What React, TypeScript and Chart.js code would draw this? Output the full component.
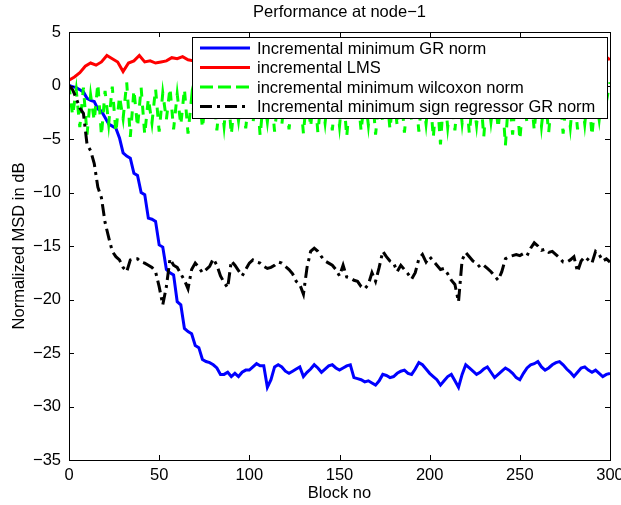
import React, { useEffect, useRef } from "react";
import { Chart, registerables } from "chart.js";

Chart.register(...registerables);

const FONT = '"Liberation Sans", Arial, Helvetica, sans-serif';
const FONT_SIZE = 16.5;

const TITLE = "Performance at node\u22121";
const X_LABEL = "Block no";
const Y_LABEL = "Normalized MSD in dB";

const SERIES_LABELS = [
  "Incremental minimum GR norm",
  "incremental LMS",
  "incremental minimum wilcoxon norm",
  "Incremental minimum sign regressor GR norm",
];

const X_TICKS = [0, 50, 100, 150, 200, 250, 300];
const Y_TICKS = [5, 0, -5, -10, -15, -20, -25, -30, -35];

// Block spacing of the samples in each series
const BLUE_STEP = 2;
const RED_STEP = 3;
const GREEN_STEP = 2;
const BLACK_STEP = 2;

// Incremental minimum GR norm (blocks 0,2,4,...,300)
const GR_NORM_DB = [
  0, -0.1, -0.2, -0.4, -0.6, -1.2, -1.4, -1.5, -2.2, -2.4,
  -3.0, -3.6, -3.8, -4.0, -4.9, -6.3, -6.6, -6.8, -8.2, -8.4,
  -10.0, -10.2, -12.4, -12.5, -12.7, -14.9, -15.1, -17.2, -17.5, -17.7,
  -20.2, -20.5, -22.7, -23.0, -23.2, -24.3, -24.5, -25.6, -25.8, -25.9,
  -26.1, -26.4, -27.0, -27.0, -26.8, -27.2, -26.9, -27.2, -26.8, -26.6,
  -26.6, -26.3, -26.0, -26.2, -26.2, -28.2, -27.5, -26.3, -26.1, -26.3,
  -26.7, -26.9, -26.7, -26.5, -26.3, -27.2, -26.8, -26.5, -26.1, -26.4,
  -26.8, -26.5, -26.2, -26.1, -26.4, -26.6, -26.4, -26.2, -26.1, -27.3,
  -27.4, -27.5, -27.7, -27.6, -27.8, -28.0, -27.6, -27.0, -27.1, -27.3,
  -27.2, -26.9, -26.7, -26.6, -26.9, -27.0, -26.5, -25.9, -26.1, -26.5,
  -26.9, -27.2, -27.5, -28.0, -27.6, -27.2, -27.0, -27.6, -28.2, -27.0,
  -26.1, -26.4, -26.7, -27.0, -26.8, -26.5, -26.3, -26.8, -27.3, -27.0,
  -26.7, -26.4, -26.6, -26.9, -27.3, -27.5, -26.9, -26.4, -26.1, -26.0,
  -25.8, -26.3, -26.6, -26.4, -26.1, -25.9, -25.8, -26.1, -26.5, -26.8,
  -27.2, -26.8, -26.4, -26.3, -26.6, -26.8, -26.6, -26.9, -27.2, -27.0,
  -26.9,
];

// incremental LMS (blocks 0,3,6,...,300)
const LMS_DB = [
  0.5, 0.8, 1.2, 1.8, 2.1, 1.9, 2.2, 2.8, 2.5, 2.2,
  1.3, 2.1, 2.3, 2.8, 2.2, 2.3, 2.1, 2.2, 2.3, 2.6,
  2.5, 2.7, 2.4,
  2.3, 2.0, 2.4, 2.1, 1.9, 2.3, 2.5, 2.2, 2.0, 2.4,
  2.1, 2.3, 2.6, 2.2, 1.9, 2.2, 2.4, 2.1, 2.3, 2.5,
  2.2, 2.0, 2.3, 2.4, 2.1, 2.2, 2.5, 2.3, 2.0, 2.2,
  2.4, 2.1, 2.3, 2.6, 2.2, 2.0, 2.3, 2.4, 2.2, 2.1,
  2.4, 2.5, 2.2, 2.0, 2.3, 2.4, 2.1, 2.2, 2.5, 2.3,
  2.1, 2.2, 2.4, 2.6, 2.3, 2.0, 2.2, 2.4, 2.1, 2.3,
  2.5, 2.2, 2.0, 2.3, 2.4, 2.2, 2.1, 2.4, 2.5, 2.2,
  2.3, 2.1, 2.4, 2.2, 2.3,
  2.4, 2.8, 2.4,
];

// incremental minimum wilcoxon norm (blocks 0,2,4,...,300)
const WILCOXON_DB = [
  0.0, -2.8, -0.4, -3.9, -0.2, -4.6, -0.9, -3.3, 0.2, -4.7,
  -0.5, -3.6, -0.1, -4.4, -1.0, -3.1, 0.3, -4.8, -0.4, -3.9,
  -0.2, -4.6, -1.2, -3.5, -0.3, -4.3, -0.7, -3.2, -0.2, -4.1,
  -0.8, -3.7, -0.3, -4.5, -1.1, -3.4, -0.4, -4.0, -0.8, -3.1,
  -0.2, -4.2, -0.6, -3.8, -0.3, -4.6, -1.0, -3.3, -0.5, -4.0,
  -0.7, -3.6, -0.2, -4.7, -0.9, -3.4, -0.4, -4.3, -1.1, -3.7,
  -0.3, -4.1, -0.8, -3.1, -0.5, -4.5, -0.6, -3.9, -0.2, -4.4,
  -1.0, -3.5, -0.4, -4.2, -0.7, -3.8, -0.3, -4.8, -0.9, -3.3,
  -0.5, -4.3, -0.8, -3.7, -0.2, -4.6, -1.1, -3.4, -0.4, -4.1,
  -0.6, -3.8, -0.3, -4.4, -1.0, -3.2, -0.5, -4.3, -0.8, -3.6,
  -0.3, -4.9, -0.7, -5.5, -0.4, -3.9, -0.9, -4.2, -0.2, -3.5,
  -0.6, -4.5, -1.0, -3.7, -0.3, -4.8, -0.5, -3.4, -0.8, -4.0,
  -0.4, -5.6, -0.7, -4.6, -0.2, -5.1, -1.1, -3.5, -0.5, -4.2,
  -0.3, -3.8, -0.8, -4.4, -0.6, -3.3, -0.2, -4.5, -1.0, -3.9,
  -0.4, -4.1, -0.7, -3.6, -0.3, -4.7, -0.9, -3.2, -0.2, -1.5,
  0.3,
];

// Incremental minimum sign regressor GR norm (blocks 0,2,4,...,300)
const SIGN_GR_DB = [
  0, -0.4, -1.2, -2.1, -2.6, -5.5, -6.1, -7.3, -9.5, -10.5,
  -12.8, -14.2, -15.5, -16.0, -16.3, -17.0, -17.4, -16.3, -16.2, -16.2,
  -16.5, -16.6, -16.8, -17.0, -17.4, -18.8, -20.5, -18.8, -16.2, -16.8,
  -17.0, -17.6, -18.2, -19.0, -17.2, -16.6, -17.0, -17.5, -17.2, -16.9,
  -16.2, -16.8, -17.8, -18.4, -18.9, -16.4, -16.8, -17.3, -17.8, -17.2,
  -16.6, -16.3, -16.5, -16.6, -16.9, -17.1, -17.0, -16.8, -16.5, -16.6,
  -16.9, -17.2, -17.6, -18.3, -18.6, -19.5, -17.0, -15.5, -15.2, -15.5,
  -16.0, -16.4, -16.6, -16.8, -17.2, -17.8, -16.8, -17.9, -18.0, -18.2,
  -18.3, -18.8, -19.0, -18.6, -17.5, -18.3, -17.0, -15.5, -16.0, -16.4,
  -16.6, -17.4, -16.8, -17.2, -17.6, -18.1, -17.5, -16.2, -15.8, -16.5,
  -16.0, -16.4, -16.8, -17.2, -17.1, -17.6, -18.2, -18.6, -20.2, -16.3,
  -15.6, -16.0, -16.4, -16.6, -17.0, -16.8, -17.1, -17.4, -17.8, -18.2,
  -17.4, -16.2, -16.0, -15.9, -15.8, -15.9, -15.7, -15.9, -15.2, -14.7,
  -15.0, -15.4, -15.3, -15.6, -15.5, -15.8, -16.1, -16.5, -16.5, -16.3,
  -16.0, -17.4, -16.4, -16.0, -16.3, -16.6, -15.5, -15.8, -16.4, -16.2,
  -16.5,
];

function toPoints(values: number[], step: number) {
  return values.map((y, i) => ({ x: i * step, y }));
}

function fmtTick(v: number | string) {
  const n = Number(v);
  return n < 0 ? "\u2212" + Math.abs(n) : String(n);
}

const framePlugin = {
  id: "matlabFrame",
  afterDatasetsDraw(chart: any) {
    const { ctx, chartArea, scales } = chart;
    const { left, right, top, bottom } = chartArea;
    const tl = 5;
    ctx.save();
    ctx.setLineDash([]);
    ctx.strokeStyle = "#000";
    ctx.lineWidth = 1;
    ctx.beginPath();
    X_TICKS.forEach((v) => {
      const px = Math.round(scales.x.getPixelForValue(v)) + 0.5;
      ctx.moveTo(px, bottom);
      ctx.lineTo(px, bottom - tl);
      ctx.moveTo(px, top);
      ctx.lineTo(px, top + tl);
    });
    Y_TICKS.forEach((v) => {
      const py = Math.round(scales.y.getPixelForValue(v)) + 0.5;
      ctx.moveTo(left, py);
      ctx.lineTo(left + tl, py);
      ctx.moveTo(right, py);
      ctx.lineTo(right - tl, py);
    });
    ctx.stroke();
    ctx.strokeRect(Math.round(left) + 0.5, Math.round(top) + 0.5, Math.round(right - left), Math.round(bottom - top));
    ctx.restore();
  },
};

const titleLegendPlugin = {
  id: "titleLegend",
  afterDraw(chart: any) {
    const { ctx, chartArea } = chart;
    ctx.save();
    // title
    ctx.fillStyle = "#000";
    ctx.font = `${FONT_SIZE}px ${FONT}`;
    ctx.textAlign = "center";
    ctx.textBaseline = "middle";
    ctx.fillText(TITLE, (chartArea.left + chartArea.right) / 2, 12);

    // legend box
    const boxW = 415;
    const boxH = 81;
    const boxRight = chartArea.right - 3;
    const boxTop = chartArea.top + 5;
    const boxLeft = boxRight - boxW;
    ctx.fillStyle = "#fff";
    ctx.fillRect(boxLeft, boxTop, boxW, boxH);
    ctx.strokeStyle = "#000";
    ctx.lineWidth = 1;
    ctx.setLineDash([]);
    ctx.strokeRect(Math.round(boxLeft) + 0.5, Math.round(boxTop) + 0.5, boxW, boxH);
    chart.data.datasets.forEach((ds: any, i: number) => {
      const yy = boxTop + 11 + i * 19.5;
      ctx.beginPath();
      ctx.strokeStyle = ds.borderColor;
      ctx.lineWidth = ds.borderWidth;
      ctx.lineCap = "butt";
      ctx.setLineDash(ds.legendDash || ds.borderDash || []);
      ctx.moveTo(boxLeft + 8, yy);
      ctx.lineTo(boxLeft + 58, yy);
      ctx.stroke();
      ctx.setLineDash([]);
      ctx.fillStyle = "#000";
      ctx.font = `${FONT_SIZE}px ${FONT}`;
      ctx.textAlign = "left";
      ctx.textBaseline = "middle";
      ctx.fillText(ds.label, boxLeft + 65, yy + 1);
    });
    ctx.restore();
  },
};

export default function App() {
  const canvasRef = useRef<HTMLCanvasElement | null>(null);

  useEffect(() => {
    if (!canvasRef.current) return;
    Chart.defaults.font.family = FONT;
    Chart.defaults.color = "#000";
    const chart = new Chart(canvasRef.current, {
      type: "line",
      data: {
        datasets: [
          {
            label: SERIES_LABELS[0],
            data: toPoints(GR_NORM_DB, BLUE_STEP),
            borderColor: "#0000ff",
            borderWidth: 3,
            pointRadius: 0,
            tension: 0,
            fill: false,
            order: 3,
          },
          {
            label: SERIES_LABELS[1],
            data: toPoints(LMS_DB, RED_STEP),
            borderColor: "#ff0000",
            borderWidth: 3,
            pointRadius: 0,
            tension: 0,
            fill: false,
            order: 2,
          },
          {
            label: SERIES_LABELS[2],
            data: toPoints(WILCOXON_DB, GREEN_STEP),
            borderColor: "#00ff00",
            borderWidth: 3,
            borderDash: [9, 9],
            legendDash: [13, 5],
            pointRadius: 0,
            tension: 0,
            fill: false,
            order: 1,
          },
          {
            label: SERIES_LABELS[3],
            data: toPoints(SIGN_GR_DB, BLACK_STEP),
            borderColor: "#000000",
            borderWidth: 3,
            borderDash: [12, 5, 3, 5],
            pointRadius: 0,
            tension: 0,
            fill: false,
            order: 0,
          },
        ] as any,
      },
      options: {
        animation: false,
        responsive: false,
        events: [],
        layout: { padding: { top: 32, right: 11, left: 0, bottom: 0 } },
        plugins: {
          legend: { display: false },
          title: { display: false },
          tooltip: { enabled: false },
        },
        scales: {
          x: {
            type: "linear",
            min: 0,
            max: 300,
            grid: { display: false, drawTicks: false },
            border: { display: false },
            ticks: {
              stepSize: 50,
              padding: 6,
              maxRotation: 0,
              autoSkip: false,
              color: "#000",
              font: { size: FONT_SIZE, family: FONT },
              callback: (v: any) => fmtTick(v),
            },
            title: {
              display: true,
              text: X_LABEL,
              color: "#000",
              font: { size: FONT_SIZE, family: FONT },
              padding: { top: 0, bottom: 2 },
            },
            afterFit: (scale: any) => {
              scale.height = 45;
              scale.paddingLeft = 0;
              scale.paddingRight = 0;
            },
          },
          y: {
            type: "linear",
            min: -35,
            max: 5,
            grid: { display: false, drawTicks: false },
            border: { display: false },
            ticks: {
              stepSize: 5,
              padding: 8,
              autoSkip: false,
              color: "#000",
              font: { size: FONT_SIZE, family: FONT },
              callback: (v: any) => fmtTick(v),
            },
            title: {
              display: true,
              text: Y_LABEL,
              color: "#000",
              font: { size: FONT_SIZE, family: FONT },
              padding: { top: 10, bottom: 0 },
            },
            afterFit: (scale: any) => {
              scale.width = 69;
              scale.paddingTop = 0;
              scale.paddingBottom = 0;
            },
          },
        },
      },
      plugins: [framePlugin, titleLegendPlugin],
    });
    return () => chart.destroy();
  }, []);

  return (
    <div style={{ position: "fixed", left: 0, top: 0, width: 621, height: 505, background: "#fff" }}>
      <canvas ref={canvasRef} width={621} height={505} style={{ display: "block" }} />
    </div>
  );
}
